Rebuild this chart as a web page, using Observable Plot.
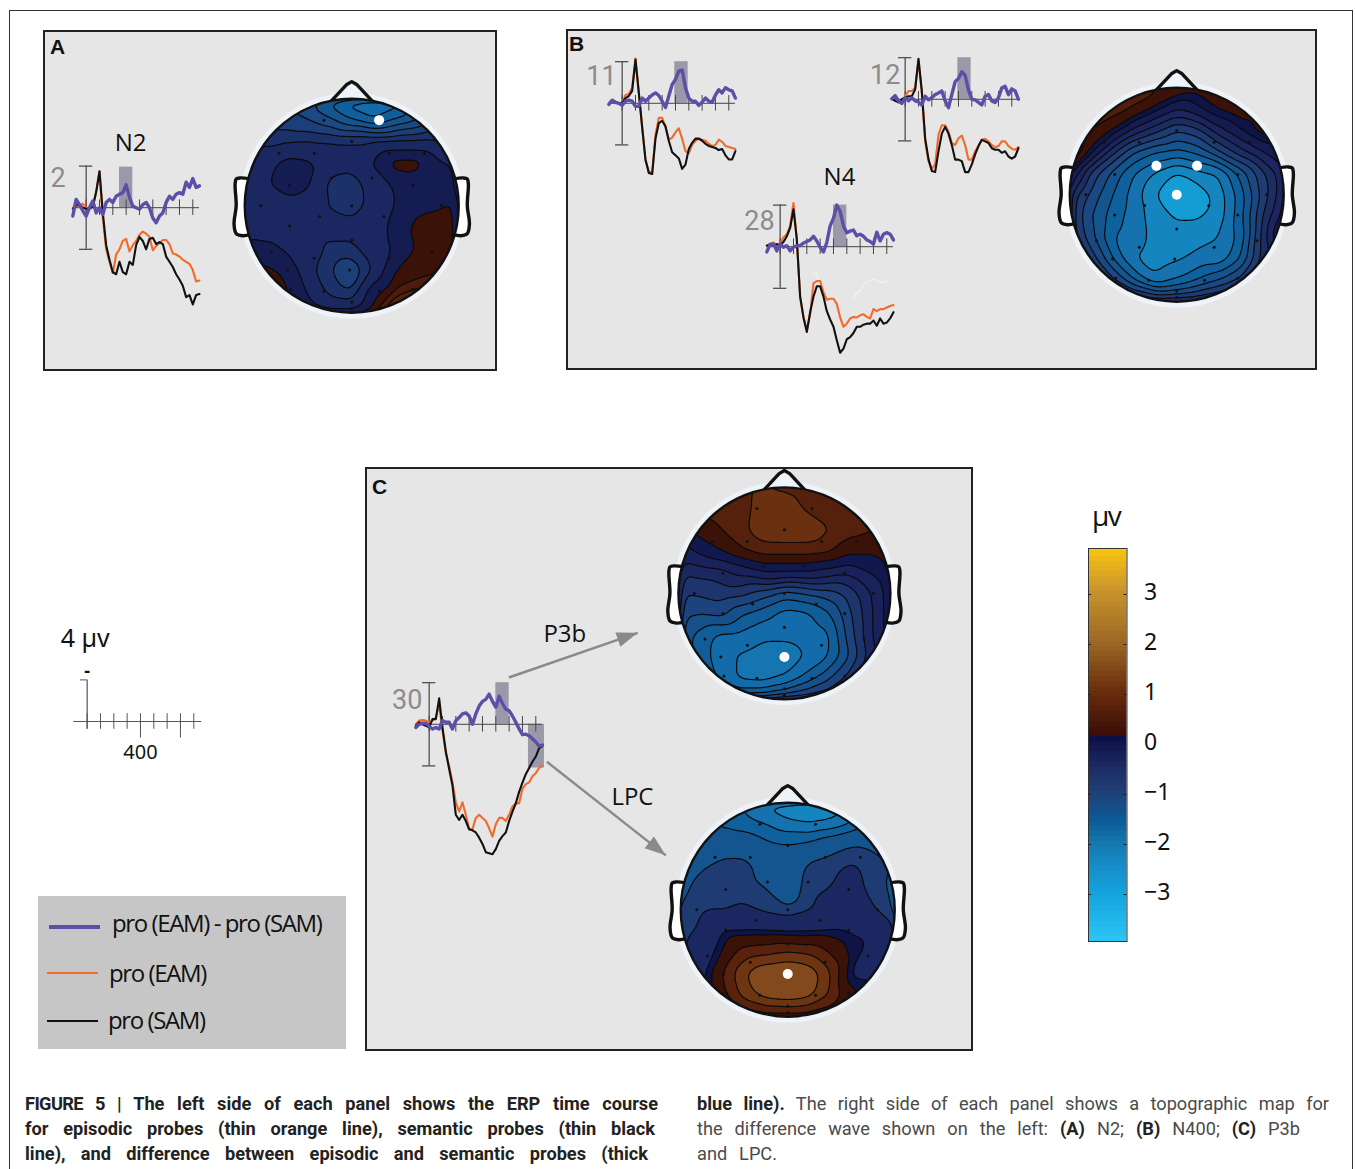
<!DOCTYPE html>
<html><head><meta charset="utf-8">
<script src="https://cdn.jsdelivr.net/npm/d3@7"></script>
<script src="https://cdn.jsdelivr.net/npm/@observablehq/plot@0.6"></script>
<style>
html,body{margin:0;padding:0;background:#fff}
#page{position:relative;width:1355px;height:1169px;overflow:hidden;font-family:"Open Sans",sans-serif}
#page svg{background:transparent!important;overflow:visible}
.panel{position:absolute;background:#e6e6e6;border:2px solid #222;box-sizing:border-box}
.plab{position:absolute;font:bold 21px "Liberation Sans",sans-serif;color:#111}
.cap{position:absolute;font:18.2px/25px Roboto,sans-serif;color:#4a4a4a}
.cap div{text-align:justify;text-align-last:justify;white-space:nowrap}
.cap b{color:#222;font-weight:700}
.lg{position:absolute;font:24px "Open Sans",sans-serif;letter-spacing:-1.4px;color:#111;white-space:nowrap}
</style></head><body><div id="page"></div>
<script>
// ---------- ERP time base (ms) ----------
const times = [-100,-75,-50,-25,0,25,50,75,100,125,150,175,200,225,250,275,300,325,350,375,400,425,450,475,500,525,550,575,600,625,650,675,700,725,750,775,800,825,850];
const tickTimes = [0,100,200,300,400,500,600,700,800];

// ---------- ERP series (µV, negative up) ----------
const a2Diff = [.8,-.8,-.3,.3,.8,0,-.65,.5,0,.65,-.5,-.8,-.5,-1.1,-1.3,-1.45,-2.2,-1,-.15,0,.15,-.3,-.5,0,1,1.45,.8,.5,-.5,-1.1,-.8,-1.3,-1.45,-1.3,-2.45,-1.95,-2.8,-1.95,-2.1];
const a2Eam = [0,-.3,-.1,-.4,0,0,-.1,-1.5,-3.5,1,4,5.2,6.3,4.5,4,3.2,3,4.2,3.6,3.2,2.6,2.3,2.5,2.8,4.1,3.7,3.4,3.1,3.1,3.5,4.4,4.5,4.7,5,5.2,5.4,6,7.1,7];
const a2Sam = [.1,-.2,-.3,0,.1,.1,-.1,-1.5,-3.5,.5,3.6,5,6.2,6.4,5.2,6.2,6.4,5.2,5.5,3.6,2.8,3.2,4,3,2.9,3.5,3.3,3.5,4.7,5.2,5.7,6.4,6.9,7.5,8.6,8.4,9.3,8.4,8.3];

const b11Diff = [.1,-.3,-.1,0,.2,-.2,-.3,-.2,.3,.3,-.5,-.2,-.5,-.8,-1,-.75,-.2,.4,-.7,-1.8,-2.3,-3.1,-3.2,-1.5,-.5,-.2,-.2,.2,-.1,-.5,-.2,-.1,-.8,-1.3,-1,-1.5,-1.3,-1.2,-.5];
const b11Eam = [.1,-.2,-.1,0,0,-.8,-.9,-1.5,-4.3,-1,2.3,5.5,6.5,6.8,3,1.4,1.4,2.3,3.5,3.3,2.8,2.4,3.4,4.6,4.8,4,3.6,3.4,3.5,3.6,3.9,4.1,4,3.5,3.7,4.1,4.2,4.3,4.4];
const b11Sam = [.1,-.2,-.1,0,0,-.5,-.7,-1.2,-4.2,-1,2.3,5.4,6.7,6.8,3.4,1.9,1.7,2.2,3.6,4.7,5,5.3,6.3,5.9,4.4,3.8,3.4,3.4,3.6,3.9,4.1,4.2,4.3,4.5,4.4,5,5.4,5.4,4.6];

const b12Diff = [-.05,-.35,.15,.4,-.15,.15,-.15,.15,.25,.55,-.3,.05,-.15,-.45,-.6,-.8,.15,.8,-.45,-1.7,-2,-2.65,-2.3,-.9,0,.05,.3,.55,-.3,-.45,.15,.3,-.15,-1.1,-1.25,-.45,-1,-.8,0];
const b12Eam = [-.05,-.15,0,.15,-.3,-.8,-.8,-1.1,-3.75,-.6,4.05,5.95,6.7,6.25,3.4,2.5,2.5,3.1,4.2,4.4,3.75,3.5,4.4,5.8,5.8,5,4.5,3.9,3.8,4.05,4.4,4.6,4.5,4.05,4.05,4.5,4.75,4.85,4.6];
const b12Sam = [-.05,.15,.3,0,-.15,-.3,-.3,-.95,-3.9,-.8,3.75,5.75,6.9,7,5,3.3,2.65,3.3,4.4,5.8,5.8,5.95,7,7,6.25,5.3,4.5,3.9,4.05,4.2,4.7,4.85,4.85,5.15,5,5.5,5.7,5.5,4.7];

const b28Diff = [.5,-.25,-.25,.4,-.25,.05,-.1,.4,.05,-.1,-.1,-.35,-.5,-.65,-1,-.55,.05,.5,-.4,-2,-2.75,-4,-3.4,-2,-1.35,-1.5,-1.6,-1.05,-1.2,-1,-.65,-.5,-.25,-1.4,-.55,-1.2,-1.35,-1.2,-.65];
const b28Eam = [-.1,-.25,-.4,-.1,-.25,-.9,-1.2,-2,-4.2,-.7,4.9,6.8,8,6.5,3.5,3.3,3.3,4.4,5.1,5,5,5.5,6.8,7.7,7.4,6.9,6.75,6.8,6.6,6.5,6.75,6.9,6,6.2,6,6,5.85,5.7,5.6];
const b28Sam = [-.1,-.25,-.1,-.25,-.15,-.45,-1,-1.8,-3.6,-.7,4.8,6.8,8.2,6.3,4.8,3.8,3.8,4.8,6.2,7,7.7,9,10.2,9.8,8.9,8.7,8.3,7.7,7.7,7.5,7.4,7.4,7.1,7.6,6.9,7.4,7.3,6.9,6.3];
const b28Faint = [null,null,null,null,null,null,null,null,null,null,null,null,null,null,2.6,2.6,3.8,null,null,null,null,null,null,null,null,null,5,4.4,4.3,3.6,3.4,3.3,3.1,3.2,3.4,3.4,3.3,null,null];

const cDiff = [.3,0,-.1,-.1,.2,.45,.3,.45,-.35,-.2,-.2,.45,-.35,-.65,-1,-1.1,-.8,0,-1,-1.75,-2.2,-2.4,-2.9,-2.2,-1.65,-2.7,-2,-1.45,-1.3,-.8,-.2,.45,1,.95,1.1,1.4,1.7,2.1,2];
const cEam = [0,-.35,-.4,-.35,-.2,-.35,-.65,-1.9,.6,2.8,4,5.6,7.5,8.4,7.5,8.7,10.1,10.1,9,8.7,9,9.3,10,10.8,9.6,9,9,9.3,8.7,7.9,7.6,7.6,6.2,5.75,5.6,5,4.7,4.2,4];
const cSam = [.15,-.2,0,.15,.3,-.5,-.5,-2.5,.3,2.6,4.3,5.9,8.7,9.2,8.7,9.3,10.1,10.2,10.4,10.9,11.5,12.3,12.4,12.5,12,11.2,10.75,10.4,9.3,8.4,7.6,6.5,5.6,4.8,4.2,3.6,3.1,2.3,2.1];

// ---------- topographic grids (µV): rows top→bottom, columns left→right ----------
const gridPos = [-1,-.8,-.6,-.4,-.2,0,.2,.4,.6,.8,1];
const topoA = [
[-1.4,-1.4,-1.6,-1.7,-2.15,-2.5,-2.6,-2.5,-1.9,-1.4,-1.2],
[-1.2,-1.3,-1.4,-1.5,-1.7,-2,-2.25,-2,-1.8,-1.5,-1.3],
[-1.1,-1.1,-1.05,-1,-1,-1,-1,-1,-1,-1,-1],
[-.8,-.7,-.3,-.4,-.75,-.85,-.45,.24,.24,-.4,-.6],
[-.8,-.55,-.25,-.45,-1.15,-1.2,-.8,-.45,-.3,-.3,-.4],
[-.8,-.75,-.7,-.75,-1.05,-1.2,-.85,-.5,-.15,-.05,.1],
[-.75,-.8,-.8,-.85,-.8,-.85,-.8,-.35,.15,.15,.15],
[-.2,-.35,-.6,-.75,-1.1,-1.1,-.75,-.45,.05,.12,.15],
[.1,.1,-.1,-.9,-1.25,-1.45,-1,.02,.1,.22,.35],
[.2,.2,.05,-.6,-1.15,-1.3,-.15,.3,.45,.4,.4],
[.2,.2,.1,-.3,-.6,-.6,.2,.7,.7,.5,.4]];
const topoB = [
[.1,.2,.35,.45,.45,.25,.1,.1,.05,-.1,-.2],
[.6,.5,.45,.28,-.1,-.5,-.25,.05,.2,.15,-.2],
[.9,.3,0,-.6,-1,-1.4,-1.2,-.6,-.2,.15,-.2],
[.9,-.1,-1,-1.7,-2,-2.1,-1.9,-1.4,-.9,-.5,-.3],
[-.1,-1.2,-1.8,-2.3,-2.65,-2.95,-2.7,-2.6,-1.9,-1.2,-.6],
[-.9,-1.5,-2,-2.45,-2.9,-3.2,-3.1,-2.75,-2.15,-1.3,-.6],
[-1,-1.7,-2.15,-2.45,-2.75,-2.95,-2.95,-2.75,-2.1,-1.1,-.4],
[-.9,-1.6,-2.3,-2.45,-2.7,-2.75,-2.7,-2.6,-2.2,-1,.05],
[-.6,-1.2,-2,-2.6,-2.75,-2.65,-2.5,-2.5,-2,-1,-.3],
[-.4,-.7,-1.3,-2,-2.55,-2.3,-2,-1.7,-1.3,-.7,-.3],
[-.3,-.4,-.5,-.7,-.9,-.9,-.8,-.6,-.5,-.4,-.3]];
const topoC1 = [
[.5,.6,.6,.6,.85,.65,.55,.5,.45,.4,.3],
[.4,.5,.5,.55,.9,.9,.65,.5,.45,.4,.3],
[-.1,.15,.35,.6,.95,1,1,.75,.5,.4,.3],
[-.6,-.25,0,.3,.5,.5,.5,.45,.1,.05,.05],
[-1,-.9,-.85,-.6,-.35,-.35,-.35,-.5,-.65,-.35,-.05],
[-1.3,-1.25,-1.15,-1.2,-1.45,-1.75,-1.6,-1.45,-1.2,-.75,-.2],
[-1.5,-1.6,-1.5,-1.9,-2.1,-2.35,-2.3,-2,-1.4,-.8,-.2],
[-1.7,-2,-2.3,-2.3,-2.45,-2.45,-2.4,-2.3,-1.5,-.8,-.2],
[-1.7,-2,-2.4,-2.55,-2.65,-2.65,-2.5,-2.25,-1.65,-.9,-.3],
[-1.5,-1.8,-2.3,-2.6,-2.65,-2.5,-2.1,-1.7,-1.2,-.7,-.3],
[-1,-1.2,-1.6,-1.8,-1.7,-1.4,-1.2,-1,-.8,-.5,-.3]];
const topoC2 = [
[-2,-2,-2.1,-2.4,-2.75,-2.9,-3,-2.9,-2.3,-2,-1.8],
[-1.9,-1.95,-2.05,-2.15,-2.3,-2.5,-2.58,-2.5,-2.3,-2,-1.7],
[-1.8,-1.8,-1.7,-1.7,-1.9,-1.95,-1.9,-1.65,-1.4,-1.5,-1.6],
[-1.7,-1.45,-1.2,-1.2,-1.7,-1.9,-1.25,-1.1,-.9,-1.2,-1.4],
[-1.55,-1.2,-1.2,-1.2,-1.4,-1.8,-1.15,-1,-.8,-1.15,-1.55],
[-1.3,-1.05,-1.05,-.9,-1.15,-1.35,-1.05,-.7,-.6,-.95,-1.45],
[-1.2,-.9,-.15,-.15,-.15,-.2,-.2,-.15,-.22,-.25,-.7],
[-1,-.5,.05,.6,.7,.85,.75,.35,-.1,-.3,-.5],
[-.9,-.3,.45,1.2,1.6,1.7,1.5,.85,-.3,-.3,-.3],
[-.7,-.3,.3,1,1.4,1.5,1.35,.75,.1,-.1,-.2],
[-.5,-.3,-.1,.1,.2,.2,.15,.1,.1,0,-.1]];

const levelsA = [-2.75,-2.5,-2.25,-2,-1.75,-1.5,-1.25,-1,-.5,0,.25,.4,.6];
const levelsB = [-3.2,-2.9,-2.6,-2.3,-2,-1.7,-1.4,-1.1,-.8,-.5,-.2,0,.3,.6];
const levelsC1 = [-2.65,-2.5,-2.2,-1.9,-1.6,-1.3,-1,-.7,-.35,0,.35,.7];
const levelsC2 = [-3.05,-2.6,-2.3,-2,-1.4,-1,-.2,0,.4,.8,1.2];

const electrodeX = [-.26,.26,0,-.68,-.35,.35,.68,-.58,-.19,.19,.57,-.85,0,.84,-.3,.3,-.58,.57,0,-.75,-.35,.35,.75,-.6,-.02,-.57,-.26,.26,.57,0,0];
const electrodeY = [.8,.8,.6,.49,.49,.49,.49,.19,.26,.26,.19,0,0,0,-.1,-.1,-.19,-.19,-.32,-.43,-.49,-.49,-.43,-.6,-.6,-.78,-.8,-.8,-.78,-.9,-.96];

// map colours, by lower contour level
const mapStops = [-3.2,-3.05,-2.9,-2.6,-2.3,-2,-1.7,-1.4,-1.25,-1.1,-1,-.8,-.5,-.2,-.001,0,.35,.7,1.2,1.5];
const mapColors = ["#149dd5","#1585bf","#1585bf","#1572ae","#0f619e","#14558f","#1b4782","#1e3b74","#1c3069","#1c2d64","#1b2760","#1b2560","#141c52","#0e1448","#0e1448","#3a1208","#55200c","#6a3010","#824a1c","#8a5020"];

// colour bar
const barStops = [-3.94,-3,-2.5,-2,-1.6,-1,-.5,.1,.121,1,2,3,3.92];
const barColors = ["#2cc4f4","#12a2dc","#178dc8","#1576ae","#0b5c98","#1f3f78","#1c2a63","#0c0e44","#3b0d08","#6a2c0c","#9c6824","#c8932c","#fdc80f"];
const barTicks = [-3,-2,-1,0,1,2,3];

// head outline, unit circle
const noseX = [-.19,-.05,0,.05,.19], noseY = [.98,1.13,1.16,1.13,.98];
const earX = [.95,1.04,1.08,1.09,1.08,1.1,1.08,1.02,.95], earY = [.25,.26,.25,.2,0,-.17,-.26,-.28,-.27];

// legend
const legendLabels = ["pro (EAM) - pro (SAM)","pro (EAM)","pro (SAM)"];
const COL = {diff:"#5b50a8",eam:"#f26b2b",sam:"#111111"};

const page = document.getElementById("page");
function place(node,left,top){node.style.position="absolute";node.style.left=left+"px";node.style.top=top+"px";page.appendChild(node);return node;}
function html(cls,left,top,w,h,content){const d=document.createElement("div");d.className=cls;d.style.left=left+"px";d.style.top=top+"px";if(w)d.style.width=w+"px";if(h)d.style.height=h+"px";if(content)d.innerHTML=content;page.appendChild(d);return d;}

// frame and panels
const frame=document.createElement("div");frame.style.cssText="position:absolute;left:9px;top:10px;width:1344px;height:1170px;border:1.5px solid #333;box-sizing:border-box";page.appendChild(frame);
html("panel",42.5,30,454.5,341);html("panel",565.5,29,751.5,341);html("panel",365,467,608,584);
html("plab",50,35,0,0,"A");html("plab",569,32,0,0,"B");html("plab",372,475,0,0,"C");
const legendBox=document.createElement("div");legendBox.style.cssText="position:absolute;left:38px;top:896px;width:308px;height:153px;background:#c6c6c6";page.appendChild(legendBox);

// ---------- ERP plots ----------
const pxPerMs=.1333, pxPerUv=10.4;
const font13='"Open Sans",sans-serif';
const arrowHead={draw(ctx,l){ctx.moveTo(0,-l);ctx.lineTo(-l*.36,0);ctx.lineTo(l*.36,0);ctx.closePath();}};
function table(arr){return times.map((t,i)=>({t,v:arr[i]}));}
function erp(o){
  const tMin=o.tMin??-320,tMax=o.tMax??900,vTop=o.vTop??-8,vBot=o.vBot??14;
  const w=(tMax-tMin)*pxPerMs,h=(vBot-vTop)*pxPerUv;
  const marks=[];
  (o.bands||[]).forEach(b=>marks.push(Plot.rect([b],{x1:"t1",x2:"t2",y1:"v1",y2:"v2",fill:"#9b99a9"})));
  marks.push(Plot.ruleY([0],{x1:-100,x2:850,stroke:"#444",strokeWidth:1}));
  marks.push(Plot.ruleX(tickTimes,{y1:-.75,y2:.75,stroke:"#444",strokeWidth:1}));
  marks.push(Plot.ruleX([0],{y1:-4,y2:4,stroke:"#444",strokeWidth:1.2}));
  marks.push(Plot.ruleY([-4,4],{x1:-50,x2:50,stroke:"#444",strokeWidth:1.2}));
  if(o.faint)marks.push(Plot.line(table(o.faint),{x:"t",y:"v",stroke:"#fff",strokeWidth:.8,opacity:.8,defined:d=>d.v!=null}));
  marks.push(Plot.line(table(o.eam),{x:"t",y:"v",stroke:COL.eam,strokeWidth:2.1}));
  marks.push(Plot.line(table(o.sam),{x:"t",y:"v",stroke:COL.sam,strokeWidth:2.1}));
  marks.push(Plot.line(table(o.diff),{x:"t",y:"v",stroke:COL.diff,strokeWidth:3.4}));
  marks.push(Plot.text([o.site],{x:o.siteT??-205,y:o.siteV??-2.8,text:d=>d,fontSize:27,fill:"#8c8c8c",letterSpacing:-1.5,fontFamily:'Roboto,sans-serif'}));
  (o.labels||[]).forEach(l=>marks.push(Plot.text([l.s],{x:l.t,y:l.v,text:d=>d,fontSize:24,fill:"#111",fontFamily:font13})));
  (o.arrows||[]).forEach(a=>{
    marks.push(Plot.link([a],{x1:"t1",y1:"v1",x2:"t2",y2:"v2",stroke:"#8a8a8a",strokeWidth:2.4}));
    const rot=Math.atan2((a.t2-a.t1)*pxPerMs,-(a.v2-a.v1)*pxPerUv)*180/Math.PI;
    marks.push(Plot.vector([a],{x:"t2",y:"v2",length:21,rotate:rot,anchor:"end",shape:arrowHead,fill:"#8a8a8a",stroke:"none"}));
  });
  const chart=Plot.plot({width:w,height:h,margin:0,x:{domain:[tMin,tMax],range:[0,w],axis:null},y:{domain:[vTop,vBot],range:[0,h],axis:null},marks});
  place(chart,o.x0+tMin*pxPerMs,o.y0+vTop*pxPerUv);
}
erp({x0:85.7,y0:206.7,site:"2",siteT:-210,siteV:-2.8,diff:a2Diff,eam:a2Eam,sam:a2Sam,
  bands:[{t1:250,t2:350,v1:-3.9,v2:0}],labels:[{s:"N2",t:333,v:-6.2}]});
erp({x0:621.7,y0:102.3,site:"11",siteT:-155,diff:b11Diff,eam:b11Eam,sam:b11Sam,siteV:-2.6,vTop:-7,
  bands:[{t1:395,t2:495,v1:-4,v2:0}]});
erp({x0:904.3,y0:98.3,site:"12",siteT:-150,diff:b12Diff,eam:b12Eam,sam:b12Sam,siteV:-2.3,vTop:-7,
  bands:[{t1:395,t2:495,v1:-4,v2:0}]});
erp({x0:779.3,y0:246,site:"28",siteT:-155,diff:b28Diff,eam:b28Eam,sam:b28Sam,faint:b28Faint,siteV:-2.4,
  bands:[{t1:400,t2:500,v1:-4,v2:0}],labels:[{s:"N4",t:445,v:-6.7}]});
erp({x0:428.3,y0:723.7,site:"30",siteT:-165,siteV:-2.3,diff:cDiff,eam:cEam,sam:cSam,tMax:1900,vTop:-12,
  bands:[{t1:500,t2:600,v1:-4,v2:0},{t1:745,t2:865,v1:0,v2:4.2}],
  labels:[{s:"P3b",t:1018,v:-8.7},{s:"LPC",t:1525,v:7}],
  arrows:[{t1:598,v1:-4.5,t2:1565,v2:-8.8},{t1:883,v1:3.6,t2:1775,v2:12.6}]});

// calibration
(function(){
  const tMin=-200,tMax=900,vTop=-10,vBot=5;
  const w=(tMax-tMin)*pxPerMs,h=(vBot-vTop)*pxPerUv;
  const c=Plot.plot({width:w,height:h,margin:0,x:{domain:[tMin,tMax],range:[0,w],axis:null},y:{domain:[vTop,vBot],range:[0,h],axis:null},marks:[
    Plot.ruleY([0],{x1:-100,x2:860,stroke:"#555"}),
    Plot.ruleX(tickTimes,{y1:-.75,y2:.75,stroke:"#555"}),
    Plot.ruleX([400,700],{y1:0,y2:1.6,stroke:"#555"}),
    Plot.ruleX([0],{y1:-4,y2:.75,stroke:"#555",strokeWidth:1.2}),
    Plot.ruleY([-4],{x1:-50,x2:0,stroke:"#555"}),
    Plot.text(["4 µv"],{x:-15,y:-7.9,text:d=>d,fontSize:25,fill:"#111",letterSpacing:-1.8}),
    Plot.text(["-"],{x:0,y:-4.85,text:d=>d,fontSize:18,fontWeight:700,fill:"#111"}),
    Plot.text(["400"],{x:400,y:2.95,text:d=>d,fontSize:20,fill:"#111",letterSpacing:-.5})
  ]});
  place(c,86.7+tMin*pxPerMs,720.7+vTop*pxPerUv);
})();

// ---------- topographic maps ----------
function topo(o){
  const r=o.r??107, S=1.32, size=2*S*r;
  const pts=[];o.grid.forEach((row,j)=>row.forEach((v,i)=>pts.push({x:gridPos[i],y:gridPos[10-j],v})));
  const eDots=electrodeX.map((x,i)=>({x,y:electrodeY[i]}));
  const nose=noseX.map((x,i)=>({x,y:noseY[i]}));
  const earR=earX.map((x,i)=>({x,y:earY[i]}));
  const earL=earX.map((x,i)=>({x:-x,y:earY[i]}));
  const id="clip"+o.id;
  const chart=Plot.plot({width:size,height:size,margin:0,
    x:{domain:[-S,S],range:[0,size],axis:null},y:{domain:[-S,S],range:[size,0],axis:null},
    color:{type:"linear",domain:mapStops,range:mapColors,interpolate:"rgb",clamp:true},
    marks:[
      Plot.dot([{x:0,y:0}],{x:"x",y:"y",r:1.055*r,fill:"#edf3f8"}),
      Plot.line(earL,{x:"x",y:"y",fill:"#fff",stroke:"#111",strokeWidth:3.4,curve:"catmull-rom"}),
      Plot.line(earR,{x:"x",y:"y",fill:"#fff",stroke:"#111",strokeWidth:3.4,curve:"catmull-rom"}),
      Plot.line(nose,{x:"x",y:"y",stroke:"#111",strokeWidth:3.4,strokeLinejoin:"round",fill:"#edf3f8"}),
      Plot.contour(pts,{x:"x",y:"y",fill:"v",interpolate:"barycentric",thresholds:o.levels,pixelSize:2,blur:2,stroke:"#0a0a0a",strokeWidth:1.2,
        render(index,scales,values,dim,ctx,next){
          const g=next(index,scales,values,dim,ctx);
          const ns="http://www.w3.org/2000/svg";
          const cp=document.createElementNS(ns,"clipPath");cp.setAttribute("id",id);
          const c=document.createElementNS(ns,"circle");c.setAttribute("cx",scales.x(0));c.setAttribute("cy",scales.y(0));c.setAttribute("r",scales.x(1)-scales.x(0));
          cp.appendChild(c);g.appendChild(cp);g.setAttribute("clip-path",`url(#${id})`);
          return g;
        }}),
      Plot.dot([{x:0,y:0}],{x:"x",y:"y",r,stroke:"#111",strokeWidth:2.4,fill:"none"}),
      Plot.dot(eDots,{x:"x",y:"y",r:1.5,fill:"#111"}),
      Plot.dot(o.hot,{x:"x",y:"y",r:5,fill:"#fff"})
    ]});
  place(chart,o.cx-size/2,o.cy-size/2);
}
topo({id:"A",cx:351,cy:205.7,grid:topoA,levels:levelsA,hot:[{x:.256,y:.8}]});
topo({id:"B",cx:1176,cy:194,grid:topoB,levels:levelsB,hot:[{x:-.19,y:.27},{x:.19,y:.27},{x:0,y:0}]});
topo({id:"C1",cx:784,cy:593,r:106,grid:topoC1,levels:levelsC1,hot:[{x:0,y:-.6}]});
topo({id:"C2",cx:787.7,cy:909.7,grid:topoC2,levels:levelsC2,hot:[{x:0,y:-.6}]});

// ---------- colour bar ----------
(function(){
  const bands=d3.range(-3.94,3.92,.1).map(v=>({v1:v,v2:Math.min(v+.1,3.92)}));
  const W=100,H=393;
  const c=Plot.plot({width:W,height:H,margin:0,marginRight:W-38.5,
    x:{domain:[0,1],axis:null},y:{domain:[-3.94,3.92],range:[H,0],axis:null},
    color:{type:"linear",domain:barStops,range:barColors,interpolate:"rgb"},
    marks:[
      Plot.rectY(bands,{x1:0,x2:1,y1:"v1",y2:"v2",fill:"v1"}),
      Plot.frame({stroke:"#333",strokeWidth:1}),
      Plot.ruleY(barTicks,{x1:0,x2:.08,stroke:"#222"}),
      Plot.ruleY(barTicks,{x1:.92,x2:1,stroke:"#222"}),
      Plot.axisY(barTicks,{anchor:"right",tickSize:0,tickPadding:17,textAnchor:"start",fontSize:23,dy:-2,tickFormat:d=>d<0?"\u2212"+(-d):String(d),fill:"#111",label:null})
    ]});
  place(c,1088,548);
  const u=document.createElement("div");u.className="lg";u.style.cssText+="left:1092px;top:496px;font-size:28px;letter-spacing:-1.5px";u.textContent="μv";page.appendChild(u);
})();

// ---------- legend ----------
[[49,100,927,4,COL.diff,112,906],[47,98,973,2,COL.eam,109,956],[47,98,1021,2,COL.sam,108,1003]].forEach((d,i)=>{
  const l=document.createElement("div");l.style.cssText=`position:absolute;left:${d[0]}px;top:${d[2]-d[3]/2}px;width:${d[1]-d[0]}px;height:${d[3]}px;background:${d[4]}`;page.appendChild(l);
  html("lg",d[5],d[6],0,0,legendLabels[i]);
});

// ---------- caption ----------
html("cap",25,1091,0,0,'<div style="width:633px"><b><span style="letter-spacing:-.6px">FIGURE 5 |</span> The left side of each panel shows the ERP time course</b></div><div style="width:630px"><b>for episodic probes (thin orange line), semantic probes (thin black</b></div><div style="width:623px"><b>line), and difference between episodic and semantic probes (thick</b></div>');
html("cap",697,1091,0,0,'<div style="width:632px"><b>blue line).</b> The right side of each panel shows a topographic map for</div><div style="width:603px">the difference wave shown on the left: <b>(A)</b> N2; <b>(B)</b> N400; <b>(C)</b> P3b</div><div style="width:80px">and LPC.</div>');
</script></body></html>
